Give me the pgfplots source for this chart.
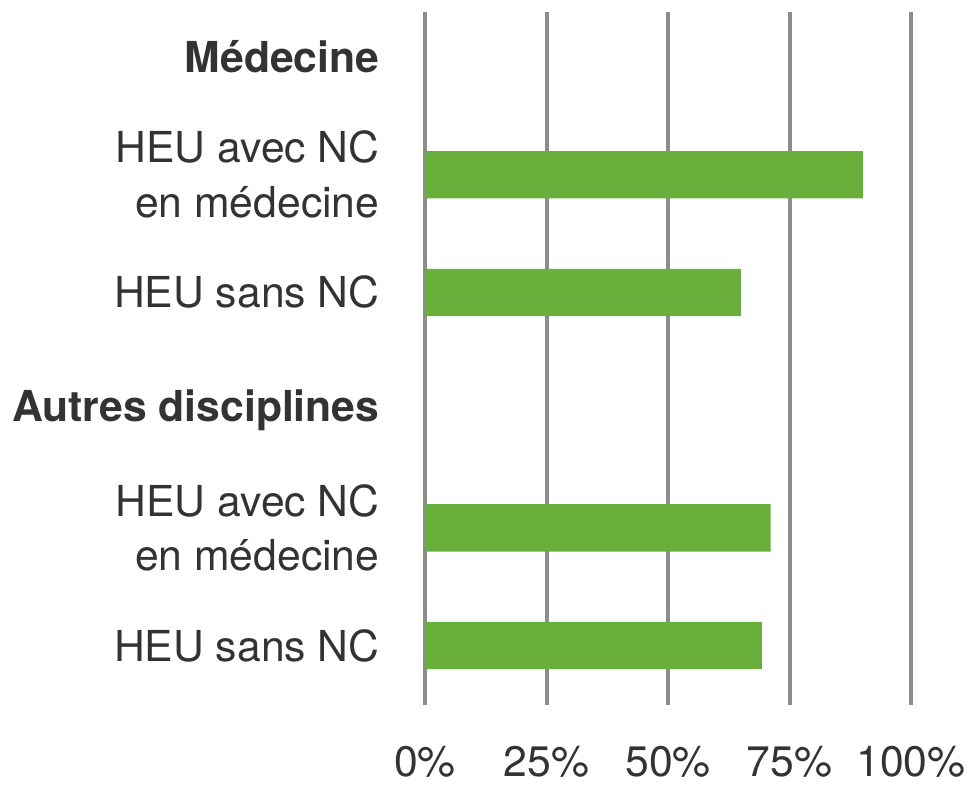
\documentclass[border=0pt]{standalone}
\usepackage{fontspec}
\setmainfont{TeX Gyre Heros}
\usepackage{pgfplots}
\pgfplotsset{compat=1.18}
\definecolor{barg}{HTML}{6AAE3C}
\definecolor{gridg}{HTML}{8C8C88}
\definecolor{txt}{HTML}{333333}

\begin{document}
\begin{tikzpicture}
\begin{axis}[
  name=ax,
  scale only axis,
  width=145.8pt,
  height=207.9pt,
  xbar,
  bar width=14.2pt,
  xmin=0, xmax=100,
  ymin=-0.382, ymax=5.505,
  y dir=reverse,
  xtick={0,25,50,75,100},
  xticklabels={0\%,25\%,50\%,75\%,100\%},
  ytick={0,1,2,3,4,5},
  yticklabels={\textbf{Médecine},{HEU avec NC\\en médecine},HEU sans NC,\textbf{Autres disciplines},{HEU avec NC\\en médecine},HEU sans NC},
  yticklabel style={align=right, inner sep=0pt, xshift=-13.5pt, font=\fontsize{12.8}{16.4}\selectfont, text=txt},
  xticklabel style={inner sep=0pt, yshift=-12.2pt, font=\fontsize{12.8}{15}\selectfont, text=txt},
  major tick length=0pt,
  tick style={draw=none},
  axis line style={draw=none},
  xmajorgrids,
  grid style={draw=gridg, line width=1.2pt},
  axis on top=false,
]
\addplot[draw=none, fill=barg] coordinates {
  (90.1,1)
  (65.0,2)
  (71.1,4)
  (69.3,5)
};
\end{axis}
\path ([shift={(-127.5pt,-24.6pt)}]ax.south west) rectangle ([shift={(17.7pt,3.6pt)}]ax.north east);
\end{tikzpicture}
\end{document}
